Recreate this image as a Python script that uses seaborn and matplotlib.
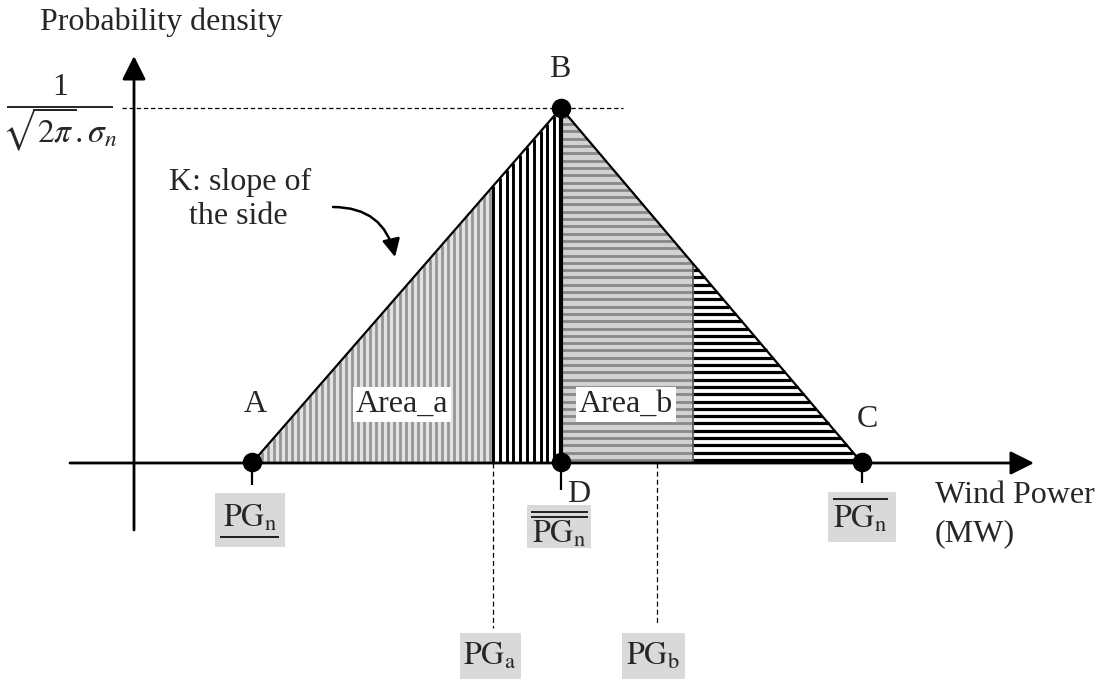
import numpy as np
import matplotlib
matplotlib.use("Agg")
import matplotlib.pyplot as plt
from matplotlib.patches import Rectangle
import seaborn as sns

# ---------------- data (diagram coordinates, pixel-like units, y downwards) ----
point_labels = ["A", "B", "C", "D"]
point_x = [252, 561, 862, 561]
point_y = [462, 108, 462, 462]
base_y = 463                 # x-axis (zero density)
peak_y = 108                 # density 1/(sqrt(2pi) sigma_n)
pg_a_x = 493                 # PG_a
pg_b_x = 657                 # PG_b
split_b_x = 693              # end of grey part of Area_b
box_labels = ["PG_n_low", "PG_n_mid", "PG_n_high", "PG_a", "PG_b"]

sns.set_theme(style="white")
plt.rcParams["font.family"] = ["Liberation Serif", "DejaVu Serif"]
plt.rcParams["mathtext.fontset"] = "stix"

fig = plt.figure(figsize=(11.02, 6.79), dpi=100)
ax = fig.add_axes([0, 0, 1, 1])
ax.set_xlim(0, 1102)
ax.set_ylim(679, 0)
ax.axis("off")

Ax, Bx, Cx = point_x[0], point_x[1], point_x[2]
Dx = point_x[3]


def top_y(x):
    return np.interp(x, [Ax, Bx, Cx], [base_y, peak_y, base_y])


def right_x(y):
    return np.interp(y, [peak_y, base_y], [Bx, Cx])


# ---- Area_a: grey background with grey vertical stripes
xs = np.linspace(Ax, pg_a_x, 200)
ax.fill_between(xs, base_y, top_y(xs), color="#e2e2e2", lw=0, zorder=1)
sx = np.arange(Ax + 4, pg_a_x, 6.0)
ax.vlines(sx, base_y, top_y(sx), color="#969696", lw=2.0, zorder=2)

# ---- black vertical stripes between PG_a and D
sx2 = np.arange(pg_a_x, Dx, 6.8)
ax.vlines(sx2, base_y, top_y(sx2), color="black", lw=2.1, zorder=2)

# ---- Area_b: grey background with grey horizontal stripes
ys = np.linspace(peak_y, base_y, 300)
ax.fill_betweenx(ys, Dx, np.minimum(split_b_x, right_x(ys)), color="#d2d2d2", lw=0, zorder=1)
sy = np.arange(base_y - 3, peak_y, -7.3)
ax.hlines(sy, Dx, np.minimum(split_b_x, right_x(sy)), color="#888888", lw=2.0, zorder=2)

# ---- black horizontal stripes right of split
sy2 = sy[right_x(sy) > split_b_x]
ax.hlines(sy2, split_b_x, right_x(sy2), color="black", lw=2.3, zorder=2)
y_split = np.interp(split_b_x, [Bx, Cx], [peak_y, base_y])
ax.vlines([split_b_x], y_split, base_y, color="#555555", lw=1.2, zorder=3)

# ---- triangle outline and D line
ax.plot([Ax, Bx, Cx], [base_y, peak_y, base_y], color="black", lw=1.6, zorder=4)
ax.vlines([Dx], peak_y, base_y, color="black", lw=3.0, zorder=4)

# ---- axes with arrows
ax.annotate("", xy=(1034, base_y), xytext=(70, base_y),
            arrowprops=dict(arrowstyle="-|>,head_length=0.8,head_width=0.4",
                            lw=2.0, color="black", mutation_scale=18, shrinkA=0, shrinkB=0),
            zorder=5)
ax.annotate("", xy=(134, 56), xytext=(134, 530),
            arrowprops=dict(arrowstyle="-|>,head_length=0.8,head_width=0.4",
                            lw=2.0, color="black", mutation_scale=18, shrinkA=0, shrinkB=0),
            zorder=5)

# ---- dashed guides
ax.hlines([peak_y], 122, 623, color="black", lw=0.9, linestyles=(0, (3.5, 2.2)), zorder=3)
ax.vlines([pg_a_x], base_y, 628, color="black", lw=0.9, linestyles=(0, (4, 2.5)), zorder=3)
ax.vlines([pg_b_x], base_y, 624, color="black", lw=0.9, linestyles=(0, (4, 2.5)), zorder=3)

# ---- tick marks below A, D, C
ax.vlines([Ax, Dx, Cx], base_y, [485, 490, 483], color="black", lw=1.6, zorder=3)

# ---- points
sns.scatterplot(x=point_x, y=point_y, color="black", s=170, edgecolor="black",
                legend=False, ax=ax, zorder=10)

FS = 23
# ---- point labels
ax.text(255, 412, "A", fontsize=FS, ha="center", va="baseline")
ax.text(560, 77, "B", fontsize=FS, ha="center", va="baseline")
ax.text(867, 427, "C", fontsize=FS, ha="center", va="baseline")
ax.text(579, 502, "D", fontsize=FS, ha="center", va="baseline")

# ---- area labels
ax.text(402, 412, "Area_a", fontsize=FS, ha="center", va="baseline", zorder=6,
        bbox=dict(facecolor="white", edgecolor="none", pad=2))
ax.text(626, 412, "Area_b", fontsize=FS, ha="center", va="baseline", zorder=6,
        bbox=dict(facecolor="white", edgecolor="none", pad=2))

# ---- K annotation
ax.text(240, 190, "K: slope of", fontsize=FS, ha="center", va="baseline")
ax.text(238, 224, "the side", fontsize=FS, ha="center", va="baseline")
ax.annotate("", xy=(395, 257), xytext=(333, 207),
            arrowprops=dict(arrowstyle="-|>,head_length=0.6,head_width=0.3",
                            connectionstyle="arc3,rad=-0.4", lw=1.8, color="black",
                            mutation_scale=18, shrinkA=0, shrinkB=0))

# ---- axis titles
ax.text(40, 30, "Probability density", fontsize=FS, ha="left", va="baseline")
ax.text(935, 503, "Wind Power", fontsize=FS, ha="left", va="baseline")
ax.text(935, 541, "(MW)", fontsize=FS, ha="left", va="baseline")

# ---- y value fraction
ax.text(60, 95, "1", fontsize=FS, ha="center", va="baseline")
ax.hlines([107], 7, 113, color="black", lw=1.2)
ax.text(60, 129, r"$\sqrt{2\pi}.\sigma_n$", fontsize=24, ha="center", va="center")

# ---- grey label boxes
boxes = {  # x0, y0, w, h, text x, baseline
    "PG_n_low": (215, 493, 70, 54, 250, 527),
    "PG_n_mid": (527, 505, 64, 43, 559, 543),
    "PG_n_high": (828, 492, 68, 50, 860, 528),
    "PG_a": (460, 633, 61, 46, 490, 665),
    "PG_b": (622, 633, 63, 46, 653, 665),
}
subs = {"PG_n_low": "n", "PG_n_mid": "n", "PG_n_high": "n", "PG_a": "a", "PG_b": "b"}
for name in box_labels:
    x0, y0, w, h, tx, ty = boxes[name]
    ax.add_patch(Rectangle((x0, y0), w, h, facecolor="#d9d9d9", edgecolor="none", zorder=1))
    ax.text(tx, ty, r"$\mathrm{PG}_{\mathrm{%s}}$" % subs[name], fontsize=FS,
            ha="center", va="baseline", zorder=6)

# over/under lines
ax.hlines([537], 220, 279, color="black", lw=1.2, zorder=6)
ax.hlines([499], 833, 888, color="black", lw=1.2, zorder=6)
ax.hlines([512, 517], 531, 588, color="black", lw=1.2, zorder=6)

fig.savefig("out.png", dpi=100)
